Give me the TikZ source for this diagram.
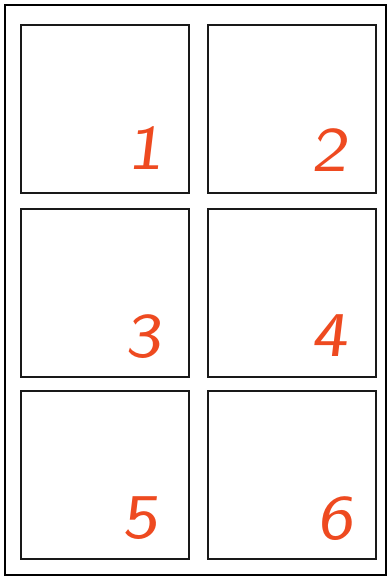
\documentclass[tikz,border=0pt]{standalone}
\usepackage{tikz}
\usetikzlibrary{calc}
\definecolor{numred}{RGB}{238,74,32}

\begin{document}
\begin{tikzpicture}[x=1bp, y=-1bp]
  % page 390 x 578 px, y runs downward
  \useasboundingbox (0,0) rectangle (390,578);
  \fill[white] (0,0) rectangle (390,578);

  % Outer frame
  \draw[line width=1.8bp, black] (5,5) rectangle (386,575);

  % Six panels, two columns x three rows
  \foreach \i/\xa/\ya in {1/21/25, 2/208/25, 3/21/209, 4/208/209, 5/21/391, 6/208/391} {
    \draw[line width=1.8bp, black!90] (\xa,\ya) rectangle ++(168,168);
    \coordinate (panel\i) at (\xa,\ya);
  }

  % Panel numbers
  \tikzset{pnum/.style={text=numred, font=\sffamily\fontsize{64}{64}\selectfont, inner sep=0pt, xscale=1.2, xslant=0.1}}
  \node[pnum] (num1) at (148,148) {1};
  \node[pnum] (num2) at (332,150) {2};
  \node[pnum] (num3) at (146,337) {3};
  \node[pnum] (num4) at (332,336) {4};
  \node[pnum] (num5) at (143,518) {5};
  \node[pnum] (num6) at (338,519) {6};
\end{tikzpicture}
\end{document}
